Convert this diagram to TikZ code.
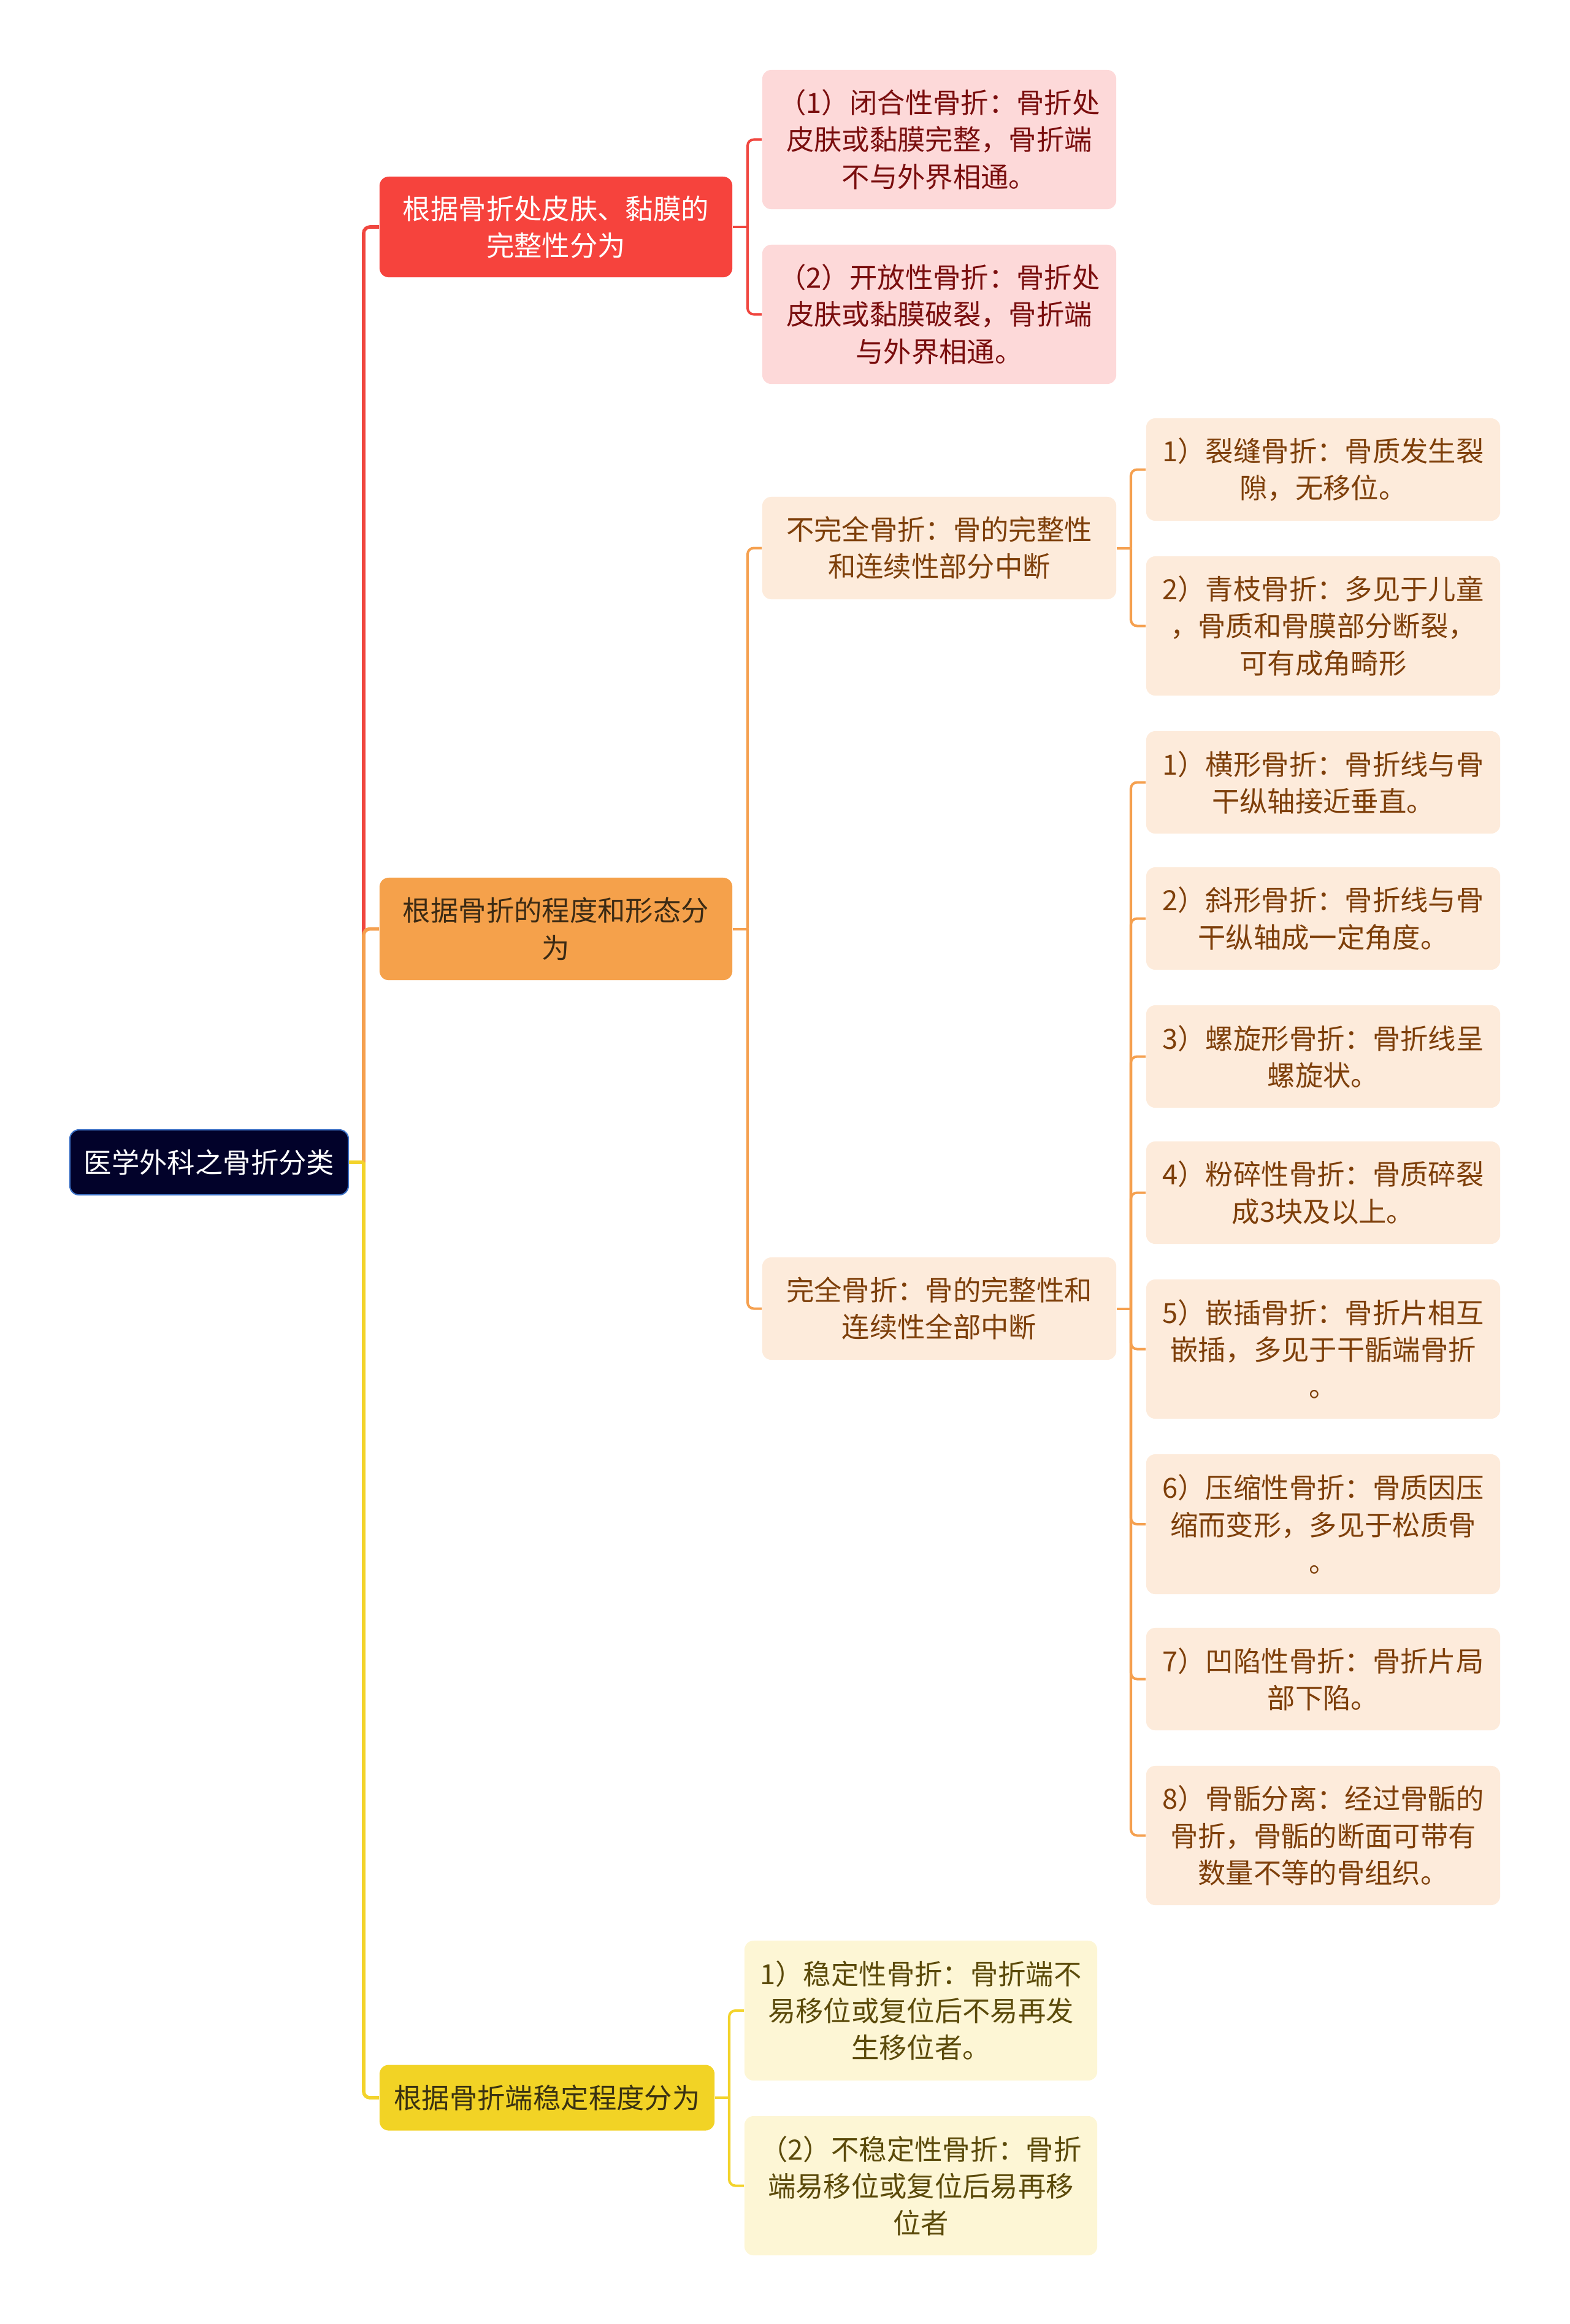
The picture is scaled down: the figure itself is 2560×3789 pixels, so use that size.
\documentclass[tikz,border=0pt]{standalone}
\usepackage{fontspec}
\setmainfont{Noto Sans CJK SC}

\definecolor{rootbg}{HTML}{02022A}
\definecolor{rootline}{HTML}{3E73C8}
\definecolor{redbg}{HTML}{F6433D}
\definecolor{redsub}{HTML}{FDD9D9}
\definecolor{redtxt}{HTML}{7A0E0E}
\definecolor{redline}{HTML}{F0463F}
\definecolor{orgbg}{HTML}{F5A14B}
\definecolor{orgsub}{HTML}{FDEBDB}
\definecolor{orgtxt}{HTML}{7E3F0A}
\definecolor{orgdark}{HTML}{3B2A14}
\definecolor{orgline}{HTML}{F5A04F}
\definecolor{ylwbg}{HTML}{F2D325}
\definecolor{ylwsub}{HTML}{FDF6D5}
\definecolor{ylwtxt}{HTML}{5B4A0A}
\definecolor{ylwdark}{HTML}{3A3212}
\definecolor{ylwline}{HTML}{F3D32B}

\tikzset{
  box/.style={rounded corners=0.15cm, align=center, inner sep=0pt,
    font=\fontsize{12.9}{17.1}\selectfont},
  rootbox/.style={box, fill=rootbg, draw=rootline, line width=0.6pt, text=white,
    minimum width=4.54cm, minimum height=1.06cm},
  topic/.style={box, minimum width=5.75cm},
  sub/.style={box, minimum width=5.77cm},
  lvone/.style={line width=1.6pt, rounded corners=0.1cm},
  lvtwo/.style={line width=1.15pt, rounded corners=0.1cm}
}

\begin{document}
\begin{tikzpicture}[x=0.01cm, y=-0.01cm]
  \useasboundingbox (0,0) rectangle (2560,3789);

  \node[rootbox] (root) at (341,1895) {医学外科之骨折分类};

  \node[topic, fill=redbg, text=white, minimum height=1.64cm] (A) at (906.5,370)
    {根据骨折处皮肤、黏膜的\\完整性分为};
  \node[topic, fill=orgbg, text=orgdark, minimum height=1.67cm] (B) at (906.5,1514.5)
    {根据骨折的程度和形态分\\为};
  \node[topic, fill=ylwbg, text=ylwdark, minimum width=5.46cm, minimum height=1.07cm] (C) at (892,3420)
    {根据骨折端稳定程度分为};

  \node[sub, fill=redsub, text=redtxt, minimum height=2.27cm] (a1) at (1531.5,227.5)
    {（1）闭合性骨折：骨折处\\皮肤或黏膜完整，骨折端\\不与外界相通。};
  \node[sub, fill=redsub, text=redtxt, minimum height=2.27cm] (a2) at (1531.5,512.5)
    {（2）开放性骨折：骨折处\\皮肤或黏膜破裂，骨折端\\与外界相通。};

  \node[sub, fill=orgsub, text=orgtxt, minimum height=1.67cm] (b1) at (1531.5,893.5)
    {不完全骨折：骨的完整性\\和连续性部分中断};
  \node[sub, fill=orgsub, text=orgtxt, minimum height=1.67cm] (b2) at (1531.5,2133.5)
    {完全骨折：骨的完整性和\\连续性全部中断};

  \node[sub, fill=orgsub, text=orgtxt, minimum height=1.67cm] (b11) at (2157.5,765.5)
    {1）裂缝骨折：骨质发生裂\\隙，无移位。};
  \node[sub, fill=orgsub, text=orgtxt, minimum height=2.27cm] (b12) at (2157.5,1020.5)
    {2）青枝骨折：多见于儿童\\，骨质和骨膜部分断裂，\\可有成角畸形};

  \node[sub, fill=orgsub, text=orgtxt, minimum height=1.67cm] (b21) at (2157.5,1275.5)
    {1）横形骨折：骨折线与骨\\干纵轴接近垂直。};
  \node[sub, fill=orgsub, text=orgtxt, minimum height=1.67cm] (b22) at (2157.5,1497.5)
    {2）斜形骨折：骨折线与骨\\干纵轴成一定角度。};
  \node[sub, fill=orgsub, text=orgtxt, minimum height=1.67cm] (b23) at (2157.5,1722.5)
    {3）螺旋形骨折：骨折线呈\\螺旋状。};
  \node[sub, fill=orgsub, text=orgtxt, minimum height=1.67cm] (b24) at (2157.5,1944.5)
    {4）粉碎性骨折：骨质碎裂\\成3块及以上。};
  \node[sub, fill=orgsub, text=orgtxt, minimum height=2.27cm] (b25) at (2157.5,2199.5)
    {5）嵌插骨折：骨折片相互\\嵌插，多见于干骺端骨折\\。};
  \node[sub, fill=orgsub, text=orgtxt, minimum height=2.28cm] (b26) at (2157.5,2485)
    {6）压缩性骨折：骨质因压\\缩而变形，多见于松质骨\\。};
  \node[sub, fill=orgsub, text=orgtxt, minimum height=1.67cm] (b27) at (2157.5,2737.5)
    {7）凹陷性骨折：骨折片局\\部下陷。};
  \node[sub, fill=orgsub, text=orgtxt, minimum height=2.27cm] (b28) at (2157.5,2992.5)
    {8）骨骺分离：经过骨骺的\\骨折，骨骺的断面可带有\\数量不等的骨组织。};

  \node[topic, fill=ylwsub, text=ylwtxt, minimum height=2.28cm] (c1) at (1501.5,3278)
    {1）稳定性骨折：骨折端不\\易移位或复位后不易再发\\生移位者。};
  \node[topic, fill=ylwsub, text=ylwtxt, minimum height=2.27cm] (c2) at (1501.5,3563.5)
    {（2）不稳定性骨折：骨折\\端易移位或复位后易再移\\位者};

  \coordinate (jroot) at (593,1895);
  \coordinate (jA) at (1219,370);
  \coordinate (jB) at (1219,1514.5);
  \coordinate (jC) at (1189,3420);
  \coordinate (jBone) at (1844,893.5);
  \coordinate (jBtwo) at (1844,2133.5);

  \draw[lvone, redline] (root.east) -- (jroot);
  \draw[lvone, redline] (jroot) |- (A.west);
  \draw[lvone, orgline] (root.east) -- (jroot);
  \draw[lvone, orgline] (jroot) |- (B.west);
  \draw[lvone, ylwline] (root.east) -- (jroot);
  \draw[lvone, ylwline] (jroot) |- (C.west);

  \draw[lvtwo, redline] (A.east) -- (jA);
  \foreach \n in {1,2} \draw[lvtwo, redline] (jA) |- (a\n.west);

  \draw[lvtwo, orgline] (B.east) -- (jB);
  \foreach \n in {1,2} \draw[lvtwo, orgline] (jB) |- (b\n.west);

  \draw[lvtwo, orgline] (b1.east) -- (jBone);
  \foreach \n in {1,2} \draw[lvtwo, orgline] (jBone) |- (b1\n.west);

  \draw[lvtwo, orgline] (b2.east) -- (jBtwo);
  \foreach \n in {1,...,8} \draw[lvtwo, orgline] (jBtwo) |- (b2\n.west);

  \draw[lvtwo, ylwline] (C.east) -- (jC);
  \foreach \n in {1,2} \draw[lvtwo, ylwline] (jC) |- (c\n.west);
\end{tikzpicture}
\end{document}
